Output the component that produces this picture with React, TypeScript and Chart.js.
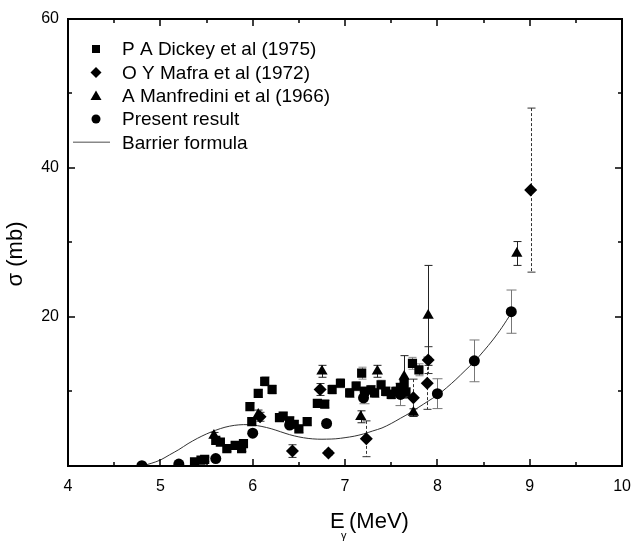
import React, { useEffect, useRef } from 'react';
import { Chart, registerables } from 'chart.js';
Chart.register(...registerables);

// ---- data ----
const dickeyE = [5.37, 5.44, 5.48, 5.60, 5.65, 5.72, 5.81, 5.88, 5.90, 5.97, 5.99, 6.06, 6.13, 6.21, 6.29, 6.33, 6.40, 6.45, 6.50, 6.59, 6.70, 6.78, 6.86, 6.95, 7.05, 7.12, 7.18, 7.21, 7.28, 7.32, 7.39, 7.44, 7.50, 7.55, 7.60, 7.64, 7.66, 7.73, 7.80];
const dickeyS = [0.57, 0.79, 0.88, 3.43, 3.2, 2.34, 2.77, 2.34, 3.0, 7.96, 5.94, 9.73, 11.35, 10.26, 6.5, 6.7, 6.07, 5.6, 4.97, 5.94, 8.4, 8.3, 10.26, 11.1, 9.8, 10.7, 12.45, 10.0, 10.2, 9.8, 10.9, 10.0, 9.6, 10.0, 10.5, 11.1, 9.9, 13.77, 12.9];
const dickeyErr = [0.3, 0.3, 0.3, 0.4, 0.4, 0.4, 0.4, 0.4, 0.4, 0.5, 0.5, 0.5, 0.6, 0.6, 0.5, 0.5, 0.5, 0.5, 0.5, 0.5, 0.5, 0.5, 0.6, 0.6, 0.6, 0.6, 0.8, 0.6, 0.6, 0.6, 0.6, 0.6, 0.6, 0.6, 0.6, 0.6, 0.6, 0.8, 0.8];

const mafraE = [6.08, 6.43, 6.73, 6.82, 7.23, 7.63, 7.74, 7.89, 7.90, 9.01];
const mafraS = [6.6, 2.0, 10.26, 1.76, 3.65, 10.3, 9.15, 11.1, 14.2, 37.0];
const mafraErr = [0.6, 0.85, 0.8, 0.3, 2.4, 1.2, 2.5, 3.5, 1.8, 11.0];

const manfrE = [5.58, 6.06, 6.75, 7.17, 7.35, 7.64, 7.74, 7.90, 8.86];
const manfrS = [4.1, 6.9, 12.7, 6.6, 12.7, 12.0, 7.17, 20.2, 28.5];
const manfrErr = [0.4, 0.6, 0.8, 0.8, 0.8, 2.8, 0.5, 6.7, 1.6];

const presentE = [4.8, 5.2, 5.6, 6.0, 6.4, 6.8, 7.2, 7.6, 8.0, 8.4, 8.8];
const presentS = [0.05, 0.26, 1.0, 4.4, 5.5, 5.7, 9.15, 9.6, 9.7, 14.1, 20.7];
const presentErr = [0, 0, 0, 0, 0, 0, 0.8, 1.5, 2.0, 2.8, 2.9];

const barrierE = [4.8, 4.9, 5.0, 5.1, 5.2, 5.3, 5.4, 5.5, 5.6, 5.7, 5.8, 5.9, 6.0, 6.1, 6.2, 6.3, 6.4, 6.5, 6.6, 6.7, 6.8, 6.9, 7.0, 7.1, 7.2, 7.3, 7.4, 7.5, 7.6, 7.7, 7.8, 7.9, 8.0, 8.1, 8.2, 8.3, 8.4, 8.5, 8.6, 8.7, 8.8];
const barrierS = [0, 0.35, 0.8, 1.5, 2.2, 3.0, 3.7, 4.3, 4.8, 5.2, 5.45, 5.55, 5.5, 5.3, 5.0, 4.6, 4.2, 3.9, 3.7, 3.6, 3.6, 3.65, 3.8, 4.0, 4.3, 4.7, 5.1, 5.7, 6.4, 7.1, 7.9, 8.7, 9.5, 10.5, 11.6, 12.8, 14.0, 15.4, 16.9, 18.6, 20.5];

const xTickLabels = [4, 5, 6, 7, 8, 9, 10];
const yTickLabels = [20, 40, 60];
const legendLabels = ['P A Dickey et al (1975)', 'O Y Mafra et al (1972)', 'A Manfredini et al (1966)', 'Present result', 'Barrier formula'];

const FONT = 'Arial, "Liberation Sans", sans-serif';

const toPts = (xs: number[], ys: number[]) => xs.map((x, i) => ({ x, y: ys[i] }));

const errorStyles: Record<number, { errs: number[]; color: string; dash: number[]; cap: number }> = {
  1: { errs: dickeyErr, color: '#888', dash: [], cap: 4 },
  2: { errs: mafraErr, color: '#333', dash: [3, 2], cap: 4 },
  3: { errs: manfrErr, color: '#222', dash: [], cap: 4 },
  4: { errs: presentErr, color: '#777', dash: [], cap: 5 },
};

const errorBarPlugin = {
  id: 'errorBars',
  beforeDatasetsDraw(chart: any) {
    const { ctx, scales } = chart;
    const xs = scales.x, ys = scales.y;
    ctx.save();
    Object.keys(errorStyles).forEach((k) => {
      const idx = Number(k);
      const st = errorStyles[idx];
      const data = chart.data.datasets[idx].data as { x: number; y: number }[];
      ctx.strokeStyle = st.color;
      ctx.lineWidth = 1;
      data.forEach((p, i) => {
        const e = st.errs[i];
        if (!e) return;
        const px = Math.round(xs.getPixelForValue(p.x)) + 0.5;
        const top = ys.getPixelForValue(p.y + e);
        const bot = ys.getPixelForValue(p.y - e);
        ctx.setLineDash(st.dash);
        ctx.beginPath();
        ctx.moveTo(px, top);
        ctx.lineTo(px, bot);
        ctx.stroke();
        ctx.setLineDash([]);
        ctx.beginPath();
        ctx.moveTo(px - st.cap, top);
        ctx.lineTo(px + st.cap, top);
        ctx.moveTo(px - st.cap, bot);
        ctx.lineTo(px + st.cap, bot);
        ctx.stroke();
      });
    });
    ctx.restore();
  },
};

const framePlugin = {
  id: 'frame',
  afterDraw(chart: any) {
    const { ctx, chartArea: a, scales } = chart;
    const xs = scales.x, ys = scales.y;
    ctx.save();
    ctx.setLineDash([]);
    const L = Math.round(a.left), R = Math.round(a.right), T = Math.round(a.top), B = Math.round(a.bottom);
    ctx.fillStyle = '#000';
    ctx.fillRect(L - 1, T - 1, R - L + 2, 2);
    ctx.fillRect(L - 1, B - 1, R - L + 2, 2);
    ctx.fillRect(L - 1, T - 1, 2, B - T + 2);
    ctx.fillRect(R - 1, T - 1, 2, B - T + 2);
    ctx.strokeStyle = '#000';
    ctx.lineWidth = 1.5;
    ctx.beginPath();
    for (let v = 4; v <= 10.001; v += 0.5) {
      const px = Math.round(xs.getPixelForValue(v));
      const len = Number.isInteger(v) ? 7 : 4;
      ctx.moveTo(px, B);
      ctx.lineTo(px, B - len);
      ctx.moveTo(px, T);
      ctx.lineTo(px, T + len);
    }
    for (let v = 0; v <= 60.001; v += 10) {
      const py = Math.round(ys.getPixelForValue(v));
      const len = v % 20 === 0 ? 7 : 4;
      ctx.moveTo(L, py);
      ctx.lineTo(L + len, py);
      ctx.moveTo(R, py);
      ctx.lineTo(R - len, py);
    }
    ctx.stroke();

    // axis titles
    ctx.fillStyle = '#000';
    ctx.textBaseline = 'alphabetic';
    ctx.textAlign = 'left';
    ctx.font = `22px ${FONT}`;
    ctx.fillText('E', 330, 528);
    ctx.font = `11px ${FONT}`;
    ctx.fillText('γ', 341, 539);
    ctx.font = `22px ${FONT}`;
    ctx.fillText('(MeV)', 349, 528);

    ctx.save();
    ctx.translate(16, 254);
    ctx.rotate(-Math.PI / 2);
    ctx.textAlign = 'center';
    ctx.textBaseline = 'middle';
    ctx.font = `22px ${FONT}`;
    ctx.fillText('σ (mb)', 0, 0);
    ctx.restore();

    // legend
    const rows = [49, 72.5, 96, 119, 142.3];
    const mx = 96;
    ctx.fillStyle = '#000';
    ctx.font = `19px ${FONT}`;
    ctx.textAlign = 'left';
    ctx.textBaseline = 'middle';
    legendLabels.forEach((t, i) => {
      const y = rows[i];
      ctx.beginPath();
      if (i === 0) {
        ctx.rect(mx - 4, y - 4, 8, 8);
        ctx.fill();
      } else if (i === 1) {
        ctx.moveTo(mx, y - 5.5);
        ctx.lineTo(mx + 5.5, y);
        ctx.lineTo(mx, y + 5.5);
        ctx.lineTo(mx - 5.5, y);
        ctx.closePath();
        ctx.fill();
      } else if (i === 2) {
        ctx.moveTo(mx, y - 5.5);
        ctx.lineTo(mx + 5.5, y + 4);
        ctx.lineTo(mx - 5.5, y + 4);
        ctx.closePath();
        ctx.fill();
      } else if (i === 3) {
        ctx.arc(mx, y, 4.5, 0, Math.PI * 2);
        ctx.fill();
      } else {
        ctx.strokeStyle = '#888';
        ctx.lineWidth = 1.5;
        ctx.moveTo(73, y);
        ctx.lineTo(110, y);
        ctx.stroke();
      }
      ctx.fillText(t, 122, y + 1);
    });
    ctx.restore();
  },
};

export default function App() {
  const ref = useRef<HTMLCanvasElement | null>(null);
  useEffect(() => {
    if (!ref.current) return;
    const chart = new Chart(ref.current, {
      type: 'scatter',
      data: {
        datasets: [
          {
            label: 'Barrier formula',
            data: toPts(barrierE, barrierS),
            showLine: true,
            pointRadius: 0,
            borderColor: '#333',
            borderWidth: 1,
            tension: 0.3,
            order: 5,
          },
          {
            label: legendLabels[0],
            data: toPts(dickeyE, dickeyS),
            pointStyle: 'rect',
            pointRadius: 6.5,
            backgroundColor: '#000',
            borderColor: '#000',
            borderWidth: 0,
            order: 4,
          },
          {
            label: legendLabels[1],
            data: toPts(mafraE, mafraS),
            pointStyle: 'rectRot',
            pointRadius: 6.5,
            backgroundColor: '#000',
            borderColor: '#000',
            borderWidth: 0,
            order: 3,
          },
          {
            label: legendLabels[2],
            data: toPts(manfrE, manfrS),
            pointStyle: 'triangle',
            pointRadius: 6.5,
            backgroundColor: '#000',
            borderColor: '#000',
            borderWidth: 0,
            order: 2,
          },
          {
            label: legendLabels[3],
            data: toPts(presentE, presentS),
            pointStyle: 'circle',
            pointRadius: 5.5,
            backgroundColor: '#000',
            borderColor: '#000',
            borderWidth: 0,
            order: 1,
          },
        ],
      },
      options: {
        responsive: false,
        animation: false,
        layout: { padding: { left: 0, right: 10, top: 12, bottom: 0 } },
        plugins: { legend: { display: false }, tooltip: { enabled: false } },
        scales: {
          x: {
            type: 'linear',
            position: 'bottom',
            min: 4,
            max: 10,
            grid: { display: false, drawTicks: false },
            border: { display: true, color: '#000', width: 2 },
            ticks: {
              stepSize: 0.5,
              padding: 11,
              color: '#000',
              font: { family: FONT, size: 16 },
              maxRotation: 0,
              autoSkip: false,
              callback: (v: any) => (xTickLabels.includes(Number(v)) ? String(v) : ''),
            },
            afterFit: (s: any) => {
              s.height = 75;
            },
          },
          x2: {
            type: 'linear',
            position: 'top',
            min: 4,
            max: 10,
            grid: { display: false, drawTicks: false },
            border: { display: true, color: '#000', width: 2 },
            ticks: { display: false },
            afterFit: (s: any) => {
              s.height = 0;
            },
          },
          y: {
            type: 'linear',
            position: 'left',
            min: 0,
            max: 60,
            grid: { display: false, drawTicks: false },
            border: { display: true, color: '#000', width: 2 },
            ticks: {
              stepSize: 10,
              padding: 9,
              color: '#000',
              font: { family: FONT, size: 16 },
              autoSkip: false,
              callback: (v: any) => (yTickLabels.includes(Number(v)) ? String(v) : ''),
            },
            afterFit: (s: any) => {
              s.width = 68;
            },
          },
          y2: {
            type: 'linear',
            position: 'right',
            min: 0,
            max: 60,
            grid: { display: false, drawTicks: false },
            border: { display: true, color: '#000', width: 2 },
            ticks: { display: false },
            afterFit: (s: any) => {
              s.width = 0;
            },
          },
        },
      },
      plugins: [errorBarPlugin, framePlugin],
    });
    return () => chart.destroy();
  }, []);
  return (
    <div style={{ position: 'fixed', left: 0, top: 0, width: 642, height: 541, background: '#fff' }}>
      <canvas ref={ref} width={642} height={541} />
    </div>
  );
}
